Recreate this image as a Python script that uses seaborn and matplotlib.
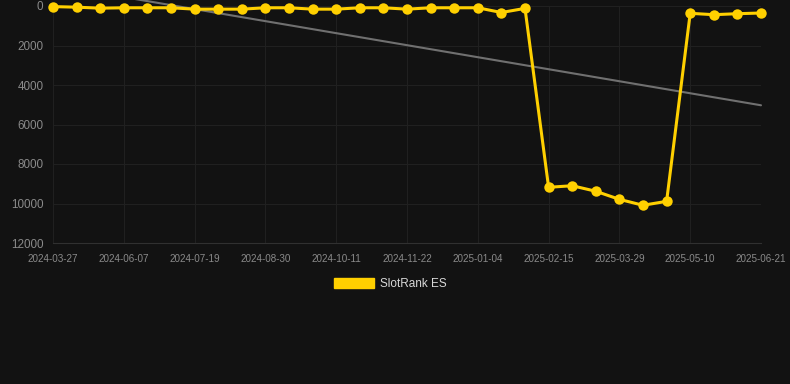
import matplotlib
matplotlib.use("Agg")
import matplotlib.pyplot as plt
import seaborn as sns
import numpy as np
import pandas as pd
from matplotlib.patches import Patch

# ---- data ----
tick_labels = ["2024-03-27", "2024-06-07", "2024-07-19", "2024-08-30", "2024-10-11",
               "2024-11-22", "2025-01-04", "2025-02-15", "2025-03-29", "2025-05-10",
               "2025-06-21"]
rank_values = [30, 60, 110, 90, 90, 90, 160, 160, 160, 90,
               90, 160, 160, 90, 90, 160, 90, 90, 90, 330,
               120, 9180, 9100, 9380, 9790, 10090, 9890, 370, 440, 390, 355]
series_name = "SlotRank ES"

BG = "#121212"
GRID = "#202020"
YELLOW = "#FFD000"
TEXT = "#8a8a8a"

sns.set_theme(style="dark")
plt.rcParams['font.family'] = ['Liberation Sans', 'DejaVu Sans']

df = pd.DataFrame({"idx": np.arange(len(rank_values)), "rank": rank_values})

fig = plt.figure(figsize=(7.9, 3.84), dpi=100, facecolor=BG)
ax = fig.add_axes([53/790, 141/384, 708/790, 237/384])
ax.set_facecolor(BG)

# trend line (linear regression)
sns.regplot(data=df, x="idx", y="rank", ax=ax, scatter=False, ci=None,
            line_kws=dict(color="#707070", lw=1.5, clip_on=False, zorder=2))

sns.lineplot(data=df, x="idx", y="rank", ax=ax, color=YELLOW, lw=2.2,
             marker="o", markersize=7.5, markeredgewidth=0, clip_on=False,
             zorder=3, label=series_name, legend=False)

ax.set_ylim(12000, 0)
ax.set_xlim(0, len(rank_values) - 1)
ax.set_yticks(np.arange(0, 12001, 2000))
ax.set_yticklabels([str(v) for v in range(0, 12001, 2000)])
ax.set_xticks(np.arange(0, len(rank_values), 3))
ax.set_xticklabels(tick_labels)
ax.set_xlabel("")
ax.set_ylabel("")

ax.grid(True, color=GRID, lw=0.8)
ax.tick_params(axis="y", length=0, pad=7, labelsize=8.4, labelcolor=TEXT)
ax.tick_params(axis="x", length=5, color=GRID, pad=3, labelsize=7.1, labelcolor=TEXT)
for s in ["top", "right", "left"]:
    ax.spines[s].set_visible(False)
ax.spines["bottom"].set_color("#303030")
ax.spines["bottom"].set_linewidth(0.8)

# legend
handle = Patch(facecolor=YELLOW, edgecolor=YELLOW)
leg = fig.legend([handle], [series_name], loc="center", bbox_to_anchor=(390/790, 1 - 284/384),
                 frameon=False, fontsize=8.5, handlelength=3.4, handleheight=0.95,
                 handletextpad=0.5, labelcolor="#d8d8d8")

fig.savefig("out.png", dpi=100, facecolor=BG)
